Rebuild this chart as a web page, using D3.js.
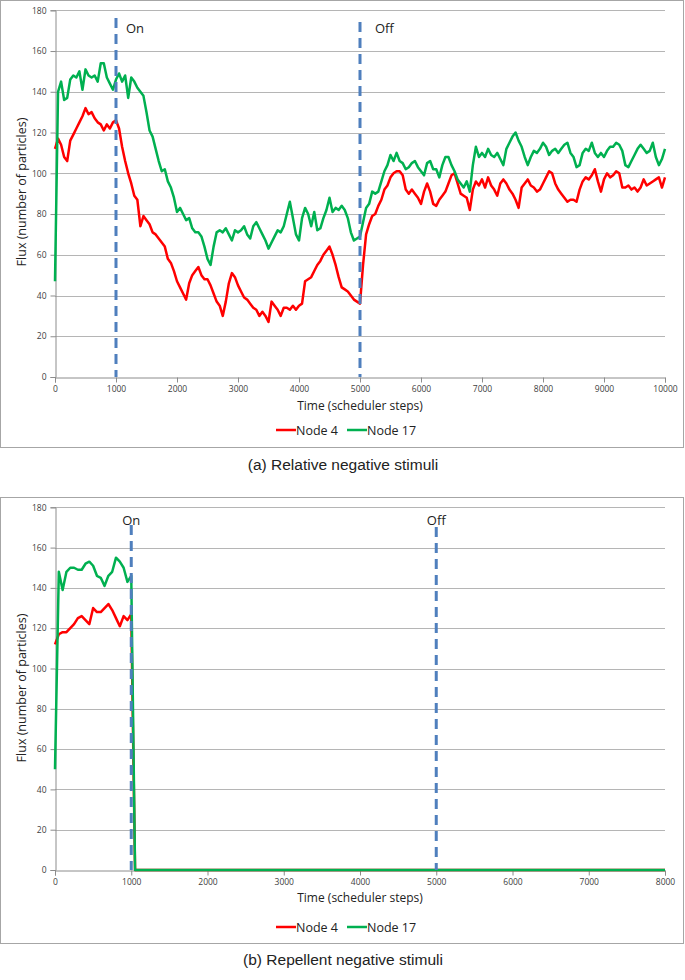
<!DOCTYPE html>
<html lang="en">
<head>
<meta charset="utf-8">
<script src="https://cdn.jsdelivr.net/npm/d3@7/dist/d3.min.js"></script>
<style>
  body { margin: 0; background: #fff; }
  text { font-family: "Open Sans", "Liberation Sans", sans-serif; fill: #222; }
  .tick text { fill: #404040; }
  .caption { font-family: "Liberation Sans", Arial, sans-serif; }
</style>
</head>
<body>
<script>
// ---- data ----
// panel (a): every 50 scheduler steps, 0..10000
var stepsA = d3.range(0, 10001, 50);
var node4A = [
  112,117,114,108,106,116,119,122,125,128,132,129,130,127,125,124,121,124,122,125,
  126,122,113,106,100,95,89,87,74,79,77,75,71,70,68,66,64,58,56,52,
  47,44,41,38,46,50,52,54,50,48,48,45,41,37,35,30,37,46,51,49,
  45,42,39,38,36,34,33,30,32,30,27,37,35,33,30,34,34,33,35,33,
  35,36,47,48,49,52,55,57,60,62,64,60,55,49,44,43,42,40,38,37,
  36,55,70,75,79,80,84,87,92,94,98,100,101,101,99,92,90,92,90,88,
  85,91,95,91,85,84,87,89,91,95,99,100,95,90,89,88,82,92,96,94,
  97,93,98,94,92,89,95,97,95,92,90,87,83,93,95,97,94,93,91,92,
  95,98,101,100,95,92,90,88,86,87,87,86,92,96,98,97,99,102,96,91,
  97,100,98,99,101,100,93,93,94,92,93,91,93,97,94,95,96,97,98,93,
  98
];
var node17A = [
  47,140,145,136,137,146,148,147,150,141,151,148,147,148,145,154,154,147,144,141,
  146,149,145,148,137,147,145,142,140,138,130,121,118,112,106,101,102,96,93,88,
  81,83,80,77,78,73,71,71,69,64,58,55,64,71,72,71,73,70,67,72,
  71,72,74,70,68,74,76,73,70,67,63,66,69,72,71,74,80,86,78,70,
  67,78,83,80,74,81,72,73,78,82,88,81,83,82,84,82,78,71,67,68,
  69,76,83,85,91,90,91,96,101,104,109,106,110,106,105,102,103,105,106,103,
  101,99,105,106,102,102,98,104,108,108,104,101,97,95,93,96,91,104,113,108,
  110,108,112,109,108,110,107,104,112,115,118,120,116,113,108,104,108,111,110,112,
  115,113,109,111,112,110,112,114,115,110,108,103,104,110,112,111,115,110,108,110,
  108,111,113,113,115,114,111,104,103,106,109,112,114,112,110,111,115,108,104,107,
  112
];

// panel (b)
var stepsB = [0,50,100,150,200,250,300,350,400,450,500,550,600,650,700,750,800,850,900,950,1000,1050,8000];
var node4B = [112,117,118,118,120,122,125,126,124,122,130,128,128,130,132,129,125,121,126,124,127,0,0];
var node17B = [50,148,139,148,150,150,149,149,152,153,151,146,145,141,146,148,155,153,150,143,146,0,0];

var yTicks = [0,20,40,60,80,100,120,140,160,180];
var xTicksA = [0,1000,2000,3000,4000,5000,6000,7000,8000,9000,10000];
var xTicksB = [0,1000,2000,3000,4000,5000,6000,7000,8000];
var markerSteps = [1000, 5000];
var markerLabels = ["On", "Off"];
var seriesNames = ["Node 4", "Node 17"];
var seriesColors = ["#ff0000", "#00b050"];

var svg = d3.select("body").append("svg")
  .attr("width", 685)
  .attr("height", 980);

svg.append("rect").attr("width", 685).attr("height", 980).attr("fill", "#fff");

function drawPanel(p) {
  var g = svg.append("g");

  // frame
  g.append("rect")
    .attr("x", 0.5).attr("y", p.boxTop + 0.5)
    .attr("width", 683).attr("height", p.boxBottom - p.boxTop)
    .attr("fill", "none").attr("stroke", "#a6a6a6");

  var x = d3.scaleLinear().domain([0, p.xMax]).range([55, 665]);
  var y = d3.scaleLinear().domain([0, 180]).range([p.y0, p.y180]);

  // gridlines
  g.selectAll(".grid").data(yTicks.slice(1)).enter().append("line")
    .attr("x1", 55).attr("x2", 665)
    .attr("y1", d => Math.round(y(d)) + 0.5).attr("y2", d => Math.round(y(d)) + 0.5)
    .attr("stroke", "#b5b5b5").attr("stroke-width", 1);

  var yAxis = d3.axisLeft(y).tickValues(yTicks).tickSize(5).tickPadding(4);
  var ya = g.append("g").attr("transform", "translate(55.5,0)").call(yAxis);
  var xAxis = d3.axisBottom(x).tickValues(p.xTicks).tickSize(5).tickPadding(3).tickFormat(d3.format("d"));
  var xa = g.append("g").attr("transform", "translate(0," + (Math.round(p.y0) + 0.5) + ")").call(xAxis);
  [ya, xa].forEach(function(a) {
    a.select(".domain").attr("stroke", "#8c8c8c");
    a.selectAll(".tick line").attr("stroke", "#8c8c8c");
    a.selectAll(".tick text").attr("font-size", "8.5px");
  });

  // series
  var line = d3.line().x(d => x(d[0])).y(d => y(d[1]));
  [p.s1, p.s2].forEach(function(vals, i) {
    g.append("path")
      .datum(p.steps.map((s, k) => [s, vals[k]]))
      .attr("d", line)
      .attr("fill", "none")
      .attr("stroke", seriesColors[i])
      .attr("stroke-width", 2.5)
      .attr("stroke-linejoin", "round");
  });

  // on / off markers
  markerSteps.forEach(function(s, i) {
    g.append("line")
      .attr("x1", x(s)).attr("x2", x(s))
      .attr("y1", p.markTop[i]).attr("y2", p.y0)
      .attr("stroke", "#4f7fbd").attr("stroke-width", 3)
      .attr("stroke-dasharray", "10,6");
    g.append("text")
      .attr("x", x(s) + p.labelDx[i]).attr("y", p.labelY)
      .attr("text-anchor", p.labelAnchor)
      .attr("font-size", "13px")
      .text(markerLabels[i]);
  });

  // axis titles
  g.append("text")
    .attr("x", 360).attr("y", p.xTitleY)
    .attr("text-anchor", "middle").attr("font-size", "12px")
    .text("Time (scheduler steps)");
  g.append("text")
    .attr("transform", "translate(26," + p.yTitleY + ") rotate(-90)")
    .attr("text-anchor", "middle").attr("font-size", "12.5px")
    .text("Flux (number of particles)");

  // legend
  var lg = g.append("g").attr("transform", "translate(0," + p.legendY + ")");
  var lx = [276, 347];
  seriesNames.forEach(function(n, i) {
    lg.append("line").attr("x1", lx[i]).attr("x2", lx[i] + 20)
      .attr("y1", 0).attr("y2", 0)
      .attr("stroke", seriesColors[i]).attr("stroke-width", 2.5);
    lg.append("text").attr("x", lx[i] + 20).attr("y", 4.5)
      .attr("font-size", "12.5px").text(n);
  });

  // caption
  svg.append("text").attr("class", "caption")
    .attr("x", 343).attr("y", p.captionY)
    .attr("text-anchor", "middle").attr("font-size", "15.5px")
    .text(p.caption);
}

drawPanel({
  boxTop: 0, boxBottom: 447, y0: 377, y180: 10.3, xMax: 10000, xTicks: xTicksA,
  steps: stepsA, s1: node4A, s2: node17A,
  markTop: [18, 22], labelDx: [10, 15], labelY: 33, labelAnchor: "start",
  xTitleY: 410, yTitleY: 192, legendY: 430, captionY: 470,
  caption: "(a) Relative negative stimuli"
});

drawPanel({
  boxTop: 497, boxBottom: 943, y0: 870, y180: 507.3, xMax: 8000, xTicks: xTicksB,
  steps: stepsB, s1: node4B, s2: node17B,
  markTop: [525, 527], labelDx: [0, 0], labelY: 525, labelAnchor: "middle",
  xTitleY: 902, yTitleY: 688, legendY: 927, captionY: 965,
  caption: "(b) Repellent negative stimuli"
});
</script>
</body>
</html>
